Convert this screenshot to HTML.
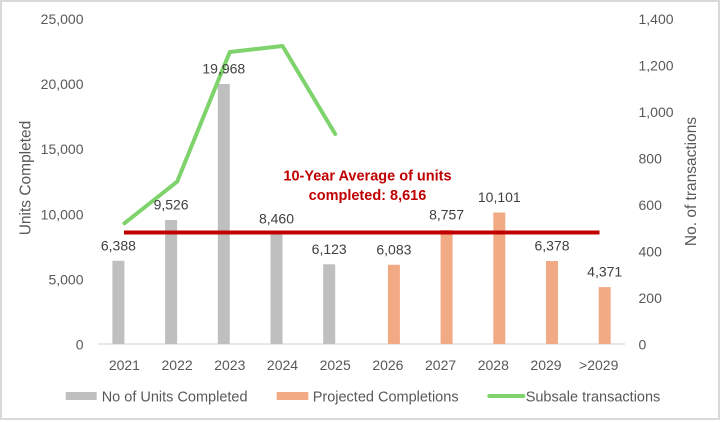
<!DOCTYPE html>
<html>
<head>
<meta charset="utf-8">
<style>
  html, body { margin: 0; padding: 0; background: #ffffff; }
  svg { display: block; }
  text { font-family: "Liberation Sans", Arial, sans-serif; }
</style>
</head>
<body>
<svg width="722" height="422" viewBox="0 0 722 422" xmlns="http://www.w3.org/2000/svg">
  <rect x="0" y="0" width="722" height="422" fill="#ffffff"/>
  <!-- chart border -->
  <rect x="1" y="1" width="718" height="418" fill="none" stroke="#d9d9d9" stroke-width="2"/>

  <!-- left axis tick labels -->
  <g font-size="14" fill="#595959" text-anchor="end">
    <text x="83.5" y="349.5">0</text>
    <text x="83.5" y="284.4">5,000</text>
    <text x="83.5" y="219.3">10,000</text>
    <text x="83.5" y="154.2">15,000</text>
    <text x="83.5" y="89.1">20,000</text>
    <text x="83.5" y="24">25,000</text>
  </g>

  <!-- right axis tick labels -->
  <g font-size="14" fill="#595959" text-anchor="start">
    <text x="638.5" y="349.5">0</text>
    <text x="638.5" y="303">200</text>
    <text x="638.5" y="256.5">400</text>
    <text x="638.5" y="210">600</text>
    <text x="638.5" y="163.5">800</text>
    <text x="638.5" y="117">1,000</text>
    <text x="638.5" y="70.5">1,200</text>
    <text x="638.5" y="24">1,400</text>
  </g>

  <!-- axis titles -->
  <text transform="translate(30.5,178) rotate(-90)" font-size="15.5" fill="#595959" text-anchor="middle">Units Completed</text>
  <text transform="translate(696,181.5) rotate(-90)" font-size="15.5" fill="#595959" text-anchor="middle">No. of transactions</text>

  <!-- baseline axis -->
  <line x1="98" y1="344" x2="625" y2="344" stroke="#d9d9d9" stroke-width="1.2"/>

  <!-- gray bars (actual) -->
  <g fill="#bfbfbf">
    <rect x="112.4" y="260.8" width="12" height="83.2"/>
    <rect x="165.1" y="220.0" width="12" height="124.0"/>
    <rect x="217.8" y="84.0" width="12" height="260.0"/>
    <rect x="270.5" y="233.9" width="12" height="110.1"/>
    <rect x="323.2" y="264.3" width="12" height="79.7"/>
  </g>

  <!-- orange bars (projected) -->
  <g fill="#f2aa84">
    <rect x="387.9" y="264.8" width="12" height="79.2"/>
    <rect x="440.6" y="230.0" width="12" height="114.0"/>
    <rect x="493.3" y="212.5" width="12" height="131.5"/>
    <rect x="546.0" y="261.0" width="12" height="83.0"/>
    <rect x="598.7" y="287.1" width="12" height="56.9"/>
  </g>

  <!-- subsale transactions line -->
  <polyline points="124.4,223.3 177.1,181.7 229.8,52 282.5,46 335.2,134" fill="none" stroke="#7ed36c" stroke-width="4" stroke-linejoin="round" stroke-linecap="round"/>

  <!-- average line -->
  <line x1="124" y1="232.5" x2="599.5" y2="232.5" stroke="#c00000" stroke-width="4"/>

  <!-- average text -->
  <g font-size="14.5" font-weight="bold" fill="#c00000" text-anchor="middle">
    <text x="367.5" y="180.5">10-Year Average of units</text>
    <text x="367.5" y="200">completed: 8,616</text>
  </g>

  <!-- data labels -->
  <g font-size="14" fill="#404040" text-anchor="middle">
    <text x="118.4" y="250.5">6,388</text>
    <text x="171.1" y="209.5">9,526</text>
    <text x="223.8" y="73.5">19,968</text>
    <text x="276.5" y="223.4">8,460</text>
    <text x="329.2" y="253.8">6,123</text>
    <text x="393.9" y="254.3">6,083</text>
    <text x="446.6" y="219.5">8,757</text>
    <text x="499.3" y="202">10,101</text>
    <text x="552.0" y="250.5">6,378</text>
    <text x="604.7" y="276.6">4,371</text>
  </g>

  <!-- category labels -->
  <g font-size="14" fill="#595959" text-anchor="middle">
    <text x="124.4" y="370">2021</text>
    <text x="177.1" y="370">2022</text>
    <text x="229.8" y="370">2023</text>
    <text x="282.5" y="370">2024</text>
    <text x="335.2" y="370">2025</text>
    <text x="387.9" y="370">2026</text>
    <text x="440.6" y="370">2027</text>
    <text x="493.3" y="370">2028</text>
    <text x="546.0" y="370">2029</text>
    <text x="598.7" y="370">&gt;2029</text>
  </g>

  <!-- legend -->
  <rect x="65.7" y="392" width="31" height="8" fill="#bfbfbf"/>
  <text x="101.7" y="401.5" font-size="14.5" fill="#595959">No of Units Completed</text>
  <rect x="276.7" y="392" width="31.6" height="8" fill="#f2aa84"/>
  <text x="312.7" y="401.5" font-size="14.5" fill="#595959">Projected Completions</text>
  <line x1="489.3" y1="396" x2="523.3" y2="396" stroke="#7ed36c" stroke-width="4" stroke-linecap="round"/>
  <text x="525.7" y="401.5" font-size="14.5" fill="#595959">Subsale transactions</text>
</svg>
</body>
</html>
